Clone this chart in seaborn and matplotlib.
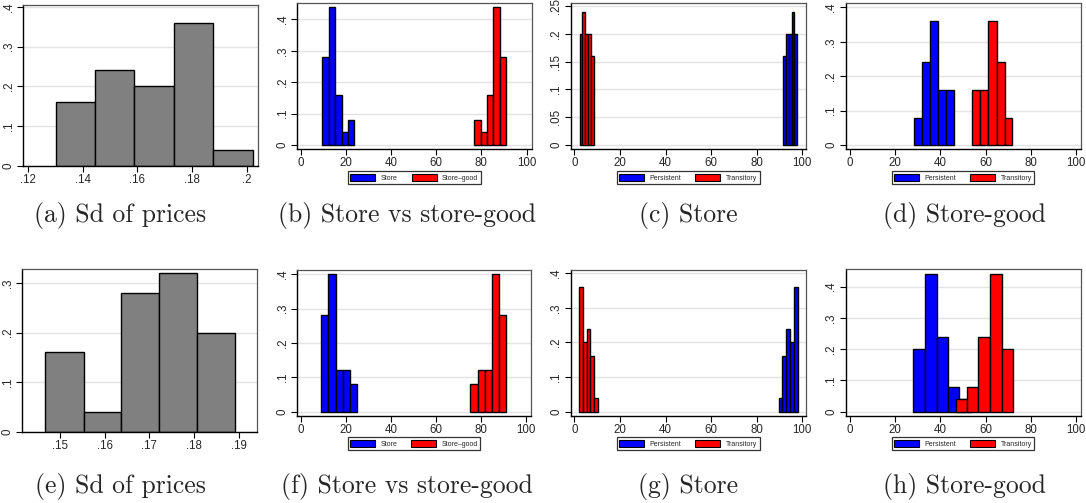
import matplotlib as mpl
mpl.use('Agg')
import matplotlib.pyplot as plt
import matplotlib.patches as mpatches
import numpy as np
import pandas as pd
import seaborn as sns

# bin edges and fractions
a_edges = [0.1301, 0.1445, 0.1589, 0.1733, 0.1877, 0.2022]
a_frac = [0.16, 0.24, 0.20, 0.36, 0.04]
e_edges = [0.1467, 0.1553, 0.1637, 0.1721, 0.1806, 0.1891]
e_frac = [0.16, 0.04, 0.28, 0.32, 0.20]

b_store_edges = [9.6, 12.4, 15.3, 18.1, 20.8, 23.7]
b_store = [0.28, 0.44, 0.16, 0.04, 0.08]
b_good_edges = [76.8, 79.7, 82.5, 85.3, 88.1, 90.9]
b_good = [0.08, 0.04, 0.16, 0.44, 0.28]

c_pers_edges = [91.4, 92.7, 94.0, 95.3, 96.5, 97.7]
c_pers = [0.16, 0.20, 0.20, 0.24, 0.20]
c_trans_edges = [2.3, 3.5, 4.8, 6.1, 7.4, 8.6]
c_trans = [0.20, 0.24, 0.20, 0.20, 0.16]

d_pers_edges = [28.4, 31.9, 35.4, 39.0, 42.6, 46.0]
d_pers = [0.08, 0.24, 0.36, 0.16, 0.16]
d_trans_edges = [54.1, 57.6, 61.2, 64.9, 68.4, 71.9]
d_trans = [0.16, 0.16, 0.36, 0.24, 0.08]

f_store_edges = [9.0, 12.3, 15.6, 18.8, 22.1, 25.1]
f_store = [0.28, 0.40, 0.12, 0.12, 0.08]
f_good_edges = [75.3, 78.5, 81.8, 85.0, 88.1, 91.3]
f_good = [0.08, 0.12, 0.12, 0.40, 0.28]

g_pers_edges = [89.6, 91.2, 93.0, 94.6, 96.2, 97.9]
g_pers = [0.04, 0.16, 0.24, 0.20, 0.36]
g_trans_edges = [1.9, 3.65, 5.4, 7.0, 8.6, 10.4]
g_trans = [0.36, 0.20, 0.24, 0.16, 0.04]

h_pers_edges = [28.1, 33.2, 38.4, 43.5, 48.5, 53.7]
h_pers = [0.20, 0.44, 0.24, 0.08, 0.04]
h_trans_edges = [47.1, 51.9, 56.9, 62.1, 67.2, 72.2]
h_trans = [0.04, 0.08, 0.24, 0.44, 0.20]

captions = ['(a) Sd of prices', '(b) Store vs store-good', '(c) Store', '(d) Store-good',
            '(e) Sd of prices', '(f) Store vs store-good', '(g) Store', '(h) Store-good']

W, H = 1086, 503
sns.set_theme(style='white')
plt.rcParams['font.family'] = ['Liberation Sans', 'DejaVu Sans']
plt.rcParams['patch.edgecolor'] = 'black'

fig = plt.figure(figsize=(W / 100, H / 100), dpi=100)
fig.patch.set_facecolor('white')


def place(l, t, r, b):
    return fig.add_axes([l / W, 1 - b / H, (r - l) / W, (b - t) / H])


def fmt(v):
    s = ('%g' % round(v, 4))
    if s.startswith('0.'):
        s = s[1:]
    return s


def hist(ax, edges, vals, color):
    e = np.array(edges)
    df = pd.DataFrame({'x': (e[:-1] + e[1:]) / 2, 'w': vals})
    sns.histplot(data=df, x='x', weights='w', bins=list(edges), ax=ax, color=color, alpha=1,
                 edgecolor='black', linewidth=1.0)


def style(ax, xlim, ylim, xticks, yticks):
    ax.set_xlim(*xlim)
    ax.set_ylim(*ylim)
    ax.set_xticks(xticks)
    ax.set_yticks(yticks)
    ax.set_xticklabels([fmt(v) for v in xticks], fontsize=8.3)
    ax.set_yticklabels([fmt(v) for v in yticks], fontsize=8.3, rotation=90, va='center')
    ax.set_xlabel('')
    ax.set_ylabel('')
    ax.tick_params(direction='out', length=4, width=0.8, color='black', pad=2,
                   bottom=True, left=True)
    ax.grid(axis='y', color='#e3e3e3', linewidth=1.0)
    ax.set_axisbelow(True)
    for s in ['left', 'bottom']:
        ax.spines[s].set_color('black')
        ax.spines[s].set_linewidth(1.0)
    for s in ['top', 'right']:
        ax.spines[s].set_color('#555555')
        ax.spines[s].set_linewidth(0.9)


def legend(ax, labels, top_px):
    handles = [mpatches.Patch(facecolor='#0000ff', edgecolor='black', linewidth=0.8),
               mpatches.Patch(facecolor='#ff0000', edgecolor='black', linewidth=0.8)]
    pos = ax.get_position()
    cx = (pos.x0 + pos.x1) / 2
    leg = ax.legend(handles, labels, loc='upper center', ncol=2,
                    bbox_to_anchor=(cx, 1 - top_px / H), bbox_transform=fig.transFigure,
                    fontsize=5.0, handlelength=3.6, handleheight=1.1, handletextpad=0.8,
                    columnspacing=2.0, borderpad=0.35, frameon=True, fancybox=False)
    leg.get_frame().set_edgecolor('black')
    leg.get_frame().set_linewidth(0.9)


grey = '#808080'
x100 = [0, 20, 40, 60, 80, 100]

# row 1
ax = place(23, 5, 258, 166)
hist(ax, a_edges, a_frac, grey)
style(ax, (0.1181, 0.2041), (0, 0.4045), [0.12, 0.14, 0.16, 0.18, 0.2], [0, 0.1, 0.2, 0.3, 0.4])

ax = place(297, 3, 531.5, 149)
hist(ax, b_store_edges, b_store, '#0000ff')
hist(ax, b_good_edges, b_good, '#ff0000')
style(ax, (-1.6, 102.2), (-0.0127, 0.452), x100, [0, 0.1, 0.2, 0.3, 0.4])
legend(ax, ['Store', 'Store\u2013good'], 168)

ax = place(570.5, 3, 806, 149)
hist(ax, c_pers_edges, c_pers, '#0000ff')
hist(ax, c_trans_edges, c_trans, '#ff0000')
style(ax, (-1.75, 101.6), (-0.0072, 0.2554), x100, [0, 0.05, 0.1, 0.15, 0.2, 0.25])
legend(ax, ['Persistent', 'Transitory'], 168)

ax = place(845.5, 3, 1080.5, 149)
hist(ax, d_pers_edges, d_pers, '#0000ff')
hist(ax, d_trans_edges, d_trans, '#ff0000')
style(ax, (-1.77, 101.9), (-0.0116, 0.413), x100, [0, 0.1, 0.2, 0.3, 0.4])
legend(ax, ['Persistent', 'Transitory'], 168)

# row 2
ax = place(22, 269, 257, 432)
hist(ax, e_edges, e_frac, grey)
style(ax, (0.1415, 0.1941), (0, 0.328), [0.15, 0.16, 0.17, 0.18, 0.19], [0, 0.1, 0.2, 0.3])

ax = place(297, 270, 531, 415.7)
hist(ax, f_store_edges, f_store, '#0000ff')
hist(ax, f_good_edges, f_good, '#ff0000')
style(ax, (-1.6, 102.2), (-0.0116, 0.412), x100, [0, 0.1, 0.2, 0.3, 0.4])
legend(ax, ['Store', 'Store\u2013good'], 434)

ax = place(570.5, 270, 806, 415.7)
hist(ax, g_pers_edges, g_pers, '#0000ff')
hist(ax, g_trans_edges, g_trans, '#ff0000')
style(ax, (-1.75, 101.6), (-0.0116, 0.4095), x100, [0, 0.1, 0.2, 0.3, 0.4])
legend(ax, ['Persistent', 'Transitory'], 434)

ax = place(845.5, 269.3, 1080.5, 415.7)
hist(ax, h_pers_edges, h_pers, '#0000ff')
hist(ax, h_trans_edges, h_trans, '#ff0000')
style(ax, (-1.77, 101.9), (-0.0128, 0.455), x100, [0, 0.1, 0.2, 0.3, 0.4])
legend(ax, ['Persistent', 'Transitory'], 434)

# captions
cap_x = [120, 407, 688, 964]
for i, cap in enumerate(captions):
    y = 216 if i < 4 else 487
    fig.text(cap_x[i % 4] / W, 1 - y / H, cap, ha='center', va='center',
             fontsize=18.5, family=['cmr10', 'DejaVu Serif'])

fig.savefig('out.png', dpi=100, facecolor='white')
